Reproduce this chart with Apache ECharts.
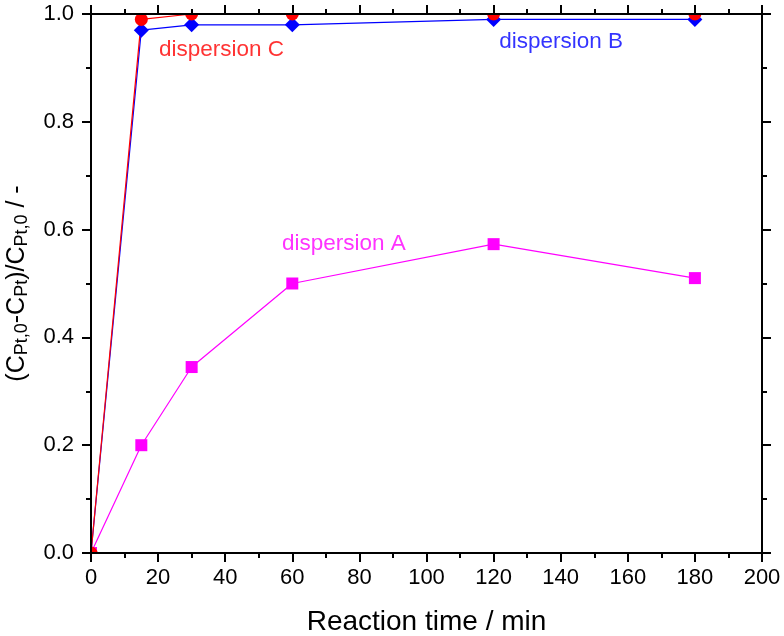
<!DOCTYPE html>
<html><head><meta charset="utf-8">
<script src="https://cdn.jsdelivr.net/npm/echarts@6/dist/echarts.min.js"></script>
<style>html,body{margin:0;padding:0;background:#fff}#c{width:784px;height:636px}</style>
</head><body><div id="c"></div>
<script>
var times = [0, 15, 30, 60, 120, 180];
var dispA = [0, 0.20, 0.345, 0.50, 0.573, 0.51];
var dispB = [0, 0.97, 0.98, 0.98, 0.99, 0.99];
var dispC = [0, 0.99, 1.0, 1.0, 1.0, 1.0];
var seriesNames = ['dispersion A', 'dispersion B', 'dispersion C'];
var labelAnchors = [[75.4, 0.573], [140.1, 0.948], [38.9, 0.933]];

var FONT = 'Liberation Sans, Arial, sans-serif';
function pairs(ys){ return times.map(function(t,i){ return [t, ys[i]]; }); }

var chart = echarts.init(document.getElementById('c'), null, {renderer:'canvas'});
var L = 91, R = 22, T = 14, B = 83;
var axisLine = {show:true, onZero:false, lineStyle:{color:'#000', width:2}};
var tick = {show: true, inside: false, length: 9, lineStyle: {color:'#000', width: 2}};
var minor = {show: true, splitNumber: 2, length: 5, lineStyle: {color:'#000', width: 2}};
function mk(name, data, color, symbol, size){
  return {
    name: name, type: 'line', data: data,
    symbol: symbol, symbolSize: size, clip: false, z: 2,
    lineStyle: {color: color, width: 1.2},
    itemStyle: {color: color}
  };
}
function lbl(name, anchor, color){
  return {
    type: 'scatter', data: [anchor], symbol: 'circle', symbolSize: 1, z: 3,
    itemStyle: {color: 'rgba(0,0,0,0)'}, silent: true,
    label: {show: true, position: 'inside', formatter: name, color: color,
      fontSize: 22.5, fontFamily: FONT}
  };
}
var option = {
  animation: false,
  backgroundColor: '#fff',
  grid: {left: L, right: R, top: T, bottom: B, containLabel: false, outerBoundsMode: 'none'},
  xAxis: [{
    type: 'value', min: 0, max: 200, interval: 20, position: 'bottom', z: 10,
    name: 'Reaction time / min', nameLocation: 'middle', nameGap: 55,
    nameTextStyle: {fontSize: 28, fontFamily: FONT, color: '#000'},
    axisLine: axisLine, axisTick: tick, minorTick: minor,
    axisLabel: {fontSize: 22, fontFamily: FONT, color: '#000', margin: 14},
    splitLine: {show: false}
  }, {
    type: 'value', min: 0, max: 200, interval: 20, position: 'top', z: 10,
    axisLine: axisLine, axisTick: tick, minorTick: minor,
    axisLabel: {show: false}, splitLine: {show: false}
  }],
  yAxis: [{
    type: 'value', min: 0, max: 1.0, interval: 0.2, position: 'left', z: 10,
    name: '(C{s|Pt,0}-C{s|Pt})/C{s|Pt,0} / -', nameLocation: 'middle', nameGap: 60, nameRotate: 90,
    nameTextStyle: {fontSize: 25, fontFamily: FONT, color: '#000',
      rich: {s: {fontSize: 18, fontFamily: FONT, color: '#000', padding: [10, 0, 0, 0]}}},
    axisLine: axisLine, axisTick: tick, minorTick: minor,
    axisLabel: {fontSize: 22, fontFamily: FONT, color: '#000', margin: 17,
      formatter: function(v){ return v.toFixed(1); }},
    splitLine: {show: false}
  }, {
    type: 'value', min: 0, max: 1.0, interval: 0.2, position: 'right', z: 10,
    axisLine: axisLine, axisTick: tick, minorTick: minor,
    axisLabel: {show: false}, splitLine: {show: false}
  }],
  graphic: [
    {type:'rect', z: 5, shape:{x:0, y:0, width:784, height:T}, style:{fill:'#fff'}},
    {type:'rect', z: 5, shape:{x:0, y:636-B, width:784, height:B}, style:{fill:'#fff'}},
    {type:'rect', z: 5, shape:{x:0, y:0, width:L, height:636}, style:{fill:'#fff'}},
    {type:'rect', z: 5, shape:{x:784-R, y:0, width:R, height:636}, style:{fill:'#fff'}}
  ],
  series: [
    mk(seriesNames[0], pairs(dispA), '#ff00ff', 'rect', 12),
    mk(seriesNames[1], pairs(dispB), '#0000ff', 'diamond', 15),
    mk(seriesNames[2], pairs(dispC), '#ff0000', 'circle', 13),
    lbl(seriesNames[0], labelAnchors[0], '#ff00ff'),
    lbl(seriesNames[1], labelAnchors[1], '#0000ff'),
    lbl(seriesNames[2], labelAnchors[2], '#ff0000')
  ]
};
chart.setOption(option);
</script></body></html>
